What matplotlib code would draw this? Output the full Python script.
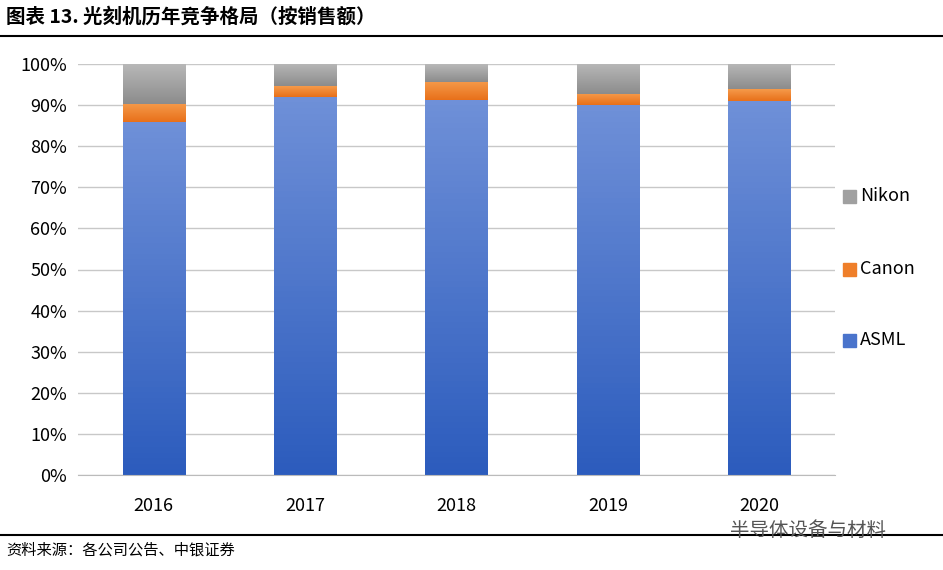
import matplotlib
matplotlib.use("Agg")
import matplotlib.pyplot as plt
import numpy as np
from matplotlib.patches import Rectangle
from matplotlib.lines import Line2D

plt.rcParams['font.family'] = ['Noto Sans CJK SC', 'DejaVu Sans']

years = ['2016', '2017', '2018', '2019', '2020']
asml = [85.9, 92.0, 91.3, 90.0, 91.0]
canon = [4.4, 2.6, 4.4, 2.7, 2.9]
nikon = [100 - a - c for a, c in zip(asml, canon)]
series = [('ASML', asml, '#6f90d8', '#2c5cbd'),
          ('Canon', canon, '#f59a4a', '#e8701a'),
          ('Nikon', nikon, '#b8b8b8', '#8c8c8c')]

W, H = 943, 570
fig = plt.figure(figsize=(W/100, H/100), dpi=100)
ax = fig.add_axes([78/W, 1-475/H, (835-78)/W, (475-64)/H])
x = np.arange(len(years))
bw = 0.41
bottom = np.zeros(len(years))
for name, vals, ctop, cbot in series:
    bars = ax.bar(x, vals, bw, bottom=bottom, color='none', edgecolor='none', label=name)
    c1 = np.array(matplotlib.colors.to_rgb(ctop)); c2 = np.array(matplotlib.colors.to_rgb(cbot))
    for b in bars:
        x0, y0, w, h = b.get_x(), b.get_y(), b.get_width(), b.get_height()
        t = np.linspace(0, 1, 64)[:, None]
        img = (c2 * (1 - t) + c1 * t)[:, None, :]
        ax.imshow(img, extent=[x0, x0 + w, y0, y0 + h], origin='lower', aspect='auto', zorder=2)
    bottom += np.array(vals)

ax.set_xlim(-0.5, 4.5)
ax.set_ylim(0, 100)
ax.set_yticks(range(0, 101, 10))
ax.set_yticklabels([f'{v}%' for v in range(0, 101, 10)], fontsize=13)
ax.set_xticks(x)
ax.set_xticklabels(years, fontsize=13)
ax.yaxis.grid(True, color='#c8c8c8', lw=1)
ax.set_axisbelow(True)
for s in ['top', 'right', 'left']:
    ax.spines[s].set_visible(False)
ax.spines['bottom'].set_color('#bbbbbb')
ax.tick_params(axis='y', length=0, pad=8)
ax.tick_params(axis='x', length=0, pad=16)

for name, y, col in [('Nikon', 196, '#a0a0a0'), ('Canon', 269, '#ef7f2a'), ('ASML', 340, '#4a74cc')]:
    fig.patches.append(Rectangle((843/W, 1-(y+7)/H), 13/W, 13/H, color=col, transform=fig.transFigure))
    fig.text(860/W, 1-y/H, name, fontsize=13, va='center')

fig.text(6/W, 1-17/H, '图表 13. 光刻机历年竞争格局（按销售额）', fontsize=14, weight='bold', va='center')
fig.add_artist(Line2D([0, 1], [1-36/H, 1-36/H], color='black', lw=1.5))
fig.add_artist(Line2D([0, 1], [1-535/H, 1-535/H], color='black', lw=1.5))
fig.text(6/W, 1-550/H, '资料来源：各公司公告、中银证券', fontsize=11, style='italic', va='center')
fig.text(730/W, 1-530/H, '半导体设备与材料', fontsize=14, color='#555555', va='center')
fig.savefig('out.png', dpi=100)
